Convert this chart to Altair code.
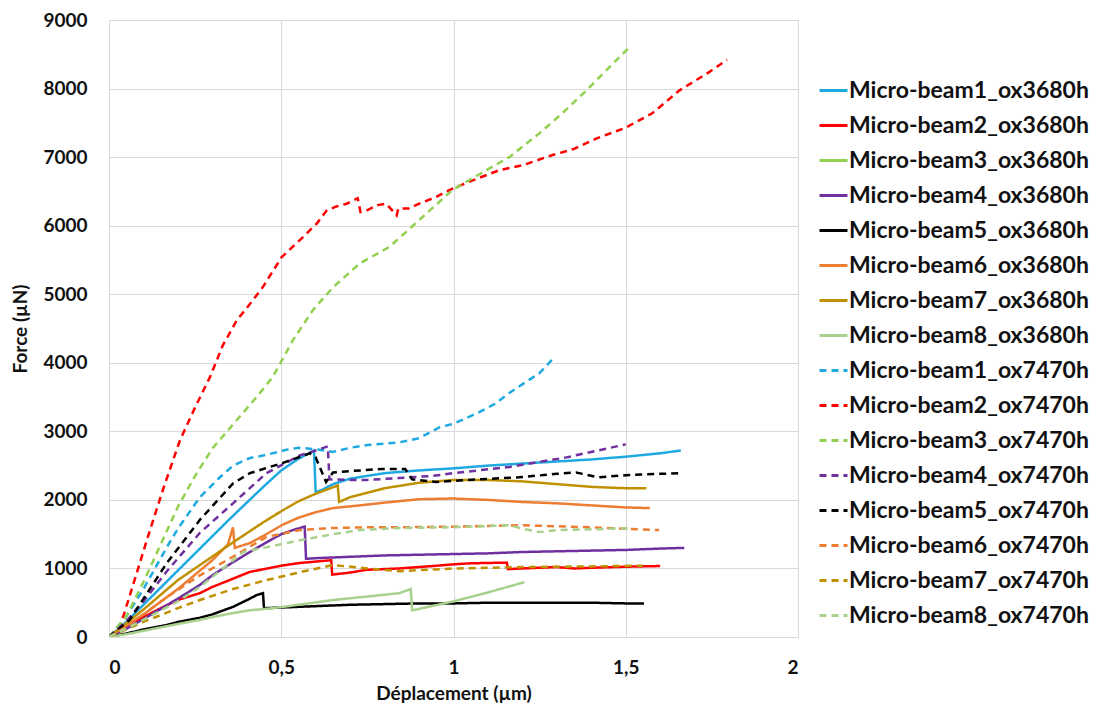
import altair as alt
import pandas as pd

# ---- series names ----
names = [
    "Micro-beam1_ox3680h", "Micro-beam2_ox3680h", "Micro-beam3_ox3680h", "Micro-beam4_ox3680h",
    "Micro-beam5_ox3680h", "Micro-beam6_ox3680h", "Micro-beam7_ox3680h", "Micro-beam8_ox3680h",
    "Micro-beam1_ox7470h", "Micro-beam2_ox7470h", "Micro-beam3_ox7470h", "Micro-beam4_ox7470h",
    "Micro-beam5_ox7470h", "Micro-beam6_ox7470h", "Micro-beam7_ox7470h", "Micro-beam8_ox7470h",
]
colors = ["#1FA9E1", "#FF0000", "#92D050", "#7030A0", "#000000", "#ED7D31", "#BF9000", "#A9D18E"] * 2
dashes = [[1, 0]] * 8 + [[7, 5]] * 8
x_ticks = [0, 0.5, 1, 1.5, 2]
y_ticks = [0, 1000, 2000, 3000, 4000, 5000, 6000, 7000, 8000, 9000]

# ---- ox3680h (solid) ----
b1_x = [0, 0.05, 0.1, 0.15, 0.2, 0.25, 0.3, 0.35, 0.4, 0.45, 0.5, 0.55, 0.595, 0.6, 0.62, 0.65, 0.7, 0.8, 0.9, 1.0, 1.1, 1.2, 1.3, 1.4, 1.5, 1.6, 1.66]
b1_y = [0, 220, 470, 720, 970, 1220, 1470, 1720, 1960, 2200, 2430, 2600, 2720, 2110, 2150, 2230, 2310, 2390, 2430, 2460, 2500, 2530, 2560, 2590, 2630, 2680, 2720]

b2_x = [0, 0.05, 0.1, 0.15, 0.2, 0.264, 0.3, 0.35, 0.409, 0.45, 0.5, 0.554, 0.6, 0.645, 0.648, 0.7, 0.747, 0.843, 0.94, 1.0, 1.05, 1.1, 1.155, 1.158, 1.2, 1.3, 1.35, 1.4, 1.5, 1.6]
b2_y = [0, 150, 290, 420, 540, 640, 730, 830, 950, 990, 1040, 1080, 1100, 1120, 910, 940, 980, 1000, 1035, 1060, 1075, 1080, 1085, 990, 1000, 1020, 1000, 1010, 1025, 1035]

b3_x = []
b3_y = []

b4_x = [0, 0.05, 0.1, 0.15, 0.2, 0.264, 0.3, 0.35, 0.409, 0.45, 0.5, 0.54, 0.568, 0.572, 0.6, 0.7, 0.8, 0.9, 1.0, 1.1, 1.2, 1.3, 1.4, 1.5, 1.6, 1.67]
b4_y = [0, 120, 260, 410, 560, 760, 900, 1060, 1240, 1360, 1500, 1570, 1610, 1140, 1150, 1170, 1190, 1200, 1210, 1220, 1240, 1250, 1260, 1270, 1290, 1300]

b5_x = [0, 0.05, 0.1, 0.168, 0.2, 0.264, 0.3, 0.36, 0.409, 0.428, 0.447, 0.45, 0.5, 0.6, 0.7, 0.8, 0.9, 1.0, 1.1, 1.2, 1.3, 1.4, 1.5, 1.553]
b5_y = [0, 50, 110, 175, 220, 280, 330, 440, 560, 610, 640, 420, 430, 450, 470, 480, 490, 490, 500, 500, 500, 500, 490, 490]

b6_x = [0, 0.1, 0.2, 0.3, 0.345, 0.36, 0.365, 0.409, 0.45, 0.505, 0.55, 0.6, 0.65, 0.728, 0.8, 0.9, 1.0, 1.1, 1.2, 1.3, 1.4, 1.5, 1.57]
b6_y = [0, 330, 700, 1120, 1350, 1600, 1300, 1370, 1480, 1640, 1740, 1820, 1880, 1920, 1960, 2010, 2020, 2000, 1970, 1950, 1920, 1890, 1880]

b7_x = [0, 0.1, 0.2, 0.264, 0.36, 0.45, 0.505, 0.55, 0.6, 0.664, 0.668, 0.7, 0.8, 0.9, 1.0, 1.1, 1.2, 1.3, 1.4, 1.5, 1.56]
b7_y = [0, 400, 830, 1050, 1380, 1680, 1850, 1980, 2090, 2210, 1970, 2040, 2170, 2250, 2290, 2290, 2270, 2230, 2190, 2170, 2170]

b8_x = [0, 0.05, 0.1, 0.15, 0.2, 0.264, 0.3, 0.35, 0.409, 0.476, 0.55, 0.65, 0.75, 0.843, 0.876, 0.88, 0.9, 1.0, 1.1, 1.206]
b8_y = [0, 40, 90, 140, 190, 250, 290, 340, 390, 420, 470, 540, 590, 640, 700, 390, 410, 520, 650, 800]

# ---- ox7470h (dashed) ----
d1_x = [0, 0.05, 0.1, 0.168, 0.2, 0.264, 0.322, 0.36, 0.409, 0.45, 0.515, 0.55, 0.6, 0.65, 0.7, 0.75, 0.8, 0.843, 0.9, 0.96, 1.0, 1.075, 1.12, 1.162, 1.21, 1.25, 1.287]
d1_y = [0, 300, 700, 1310, 1580, 2040, 2330, 2500, 2610, 2650, 2730, 2760, 2740, 2700, 2760, 2800, 2820, 2840, 2900, 3060, 3110, 3280, 3400, 3560, 3720, 3850, 4050]

d2_x = [0, 0.032, 0.06, 0.119, 0.16, 0.206, 0.25, 0.293, 0.33, 0.371, 0.4, 0.446, 0.501, 0.554, 0.603, 0.632, 0.66, 0.69, 0.722, 0.73, 0.747, 0.78, 0.805, 0.835, 0.84, 0.87, 0.9, 0.95, 0.988, 1.05, 1.133, 1.2, 1.287, 1.35, 1.414, 1.5, 1.577, 1.655, 1.742, 1.794]
d2_y = [0, 150, 600, 1560, 2200, 2870, 3350, 3790, 4250, 4620, 4800, 5100, 5540, 5790, 6030, 6220, 6280, 6320, 6400, 6200, 6220, 6300, 6320, 6150, 6250, 6250, 6320, 6420, 6520, 6650, 6810, 6880, 7030, 7120, 7270, 7430, 7640, 7970, 8240, 8420]

d3_x = [0, 0.05, 0.1, 0.15, 0.2, 0.25, 0.3, 0.36, 0.42, 0.475, 0.534, 0.592, 0.65, 0.728, 0.814, 0.9, 0.997, 1.075, 1.162, 1.25, 1.316, 1.385, 1.452, 1.51]
d3_y = [0, 300, 800, 1350, 1900, 2350, 2750, 3100, 3450, 3790, 4330, 4770, 5100, 5450, 5690, 6080, 6520, 6750, 7000, 7350, 7640, 7970, 8310, 8600]

d4_x = [0, 0.05, 0.1, 0.168, 0.264, 0.36, 0.457, 0.554, 0.6, 0.635, 0.64, 0.7, 0.747, 0.843, 0.94, 1.0, 1.162, 1.328, 1.5]
d4_y = [0, 230, 520, 960, 1520, 1950, 2390, 2650, 2720, 2780, 2300, 2290, 2290, 2320, 2350, 2390, 2480, 2620, 2810]

d5_x = [0, 0.06, 0.168, 0.264, 0.36, 0.409, 0.505, 0.583, 0.6, 0.63, 0.65, 0.7, 0.79, 0.86, 0.88, 0.95, 1.04, 1.19, 1.3, 1.356, 1.42, 1.5, 1.6, 1.665]
d5_y = [0, 250, 1080, 1710, 2240, 2390, 2540, 2680, 2620, 2260, 2400, 2420, 2450, 2450, 2300, 2260, 2290, 2330, 2380, 2400, 2330, 2360, 2380, 2390]

d6_x = [0, 0.05, 0.1, 0.168, 0.264, 0.36, 0.457, 0.554, 0.65, 0.747, 0.843, 1.0, 1.2, 1.4, 1.597]
d6_y = [0, 150, 330, 580, 900, 1170, 1460, 1560, 1590, 1600, 1600, 1610, 1630, 1600, 1560]

d7_x = [0, 0.1, 0.2, 0.264, 0.36, 0.457, 0.55, 0.65, 0.75, 0.843, 1.0, 1.2, 1.4, 1.55]
d7_y = [0, 220, 420, 540, 700, 830, 940, 1050, 1000, 960, 1000, 1020, 1030, 1040]

d8_x = [0, 0.1, 0.2, 0.264, 0.39, 0.457, 0.554, 0.65, 0.728, 0.843, 1.0, 1.162, 1.2, 1.25, 1.3, 1.4, 1.52]
d8_y = [0, 250, 520, 730, 1240, 1310, 1410, 1500, 1560, 1590, 1600, 1630, 1580, 1530, 1560, 1570, 1590]

xs = [b1_x, b2_x, b3_x, b4_x, b5_x, b6_x, b7_x, b8_x, d1_x, d2_x, d3_x, d4_x, d5_x, d6_x, d7_x, d8_x]
ys = [b1_y, b2_y, b3_y, b4_y, b5_y, b6_y, b7_y, b8_y, d1_y, d2_y, d3_y, d4_y, d5_y, d6_y, d7_y, d8_y]

rows = []
for k, (name, xv, yv) in enumerate(zip(names, xs, ys)):
    for i, (a, b) in enumerate(zip(xv, yv)):
        rows.append({"series": name, "k": k, "i": i, "x": a, "y": b})
df = pd.DataFrame(rows)

FONT = "Lato"
TXT = "#111111"

legend = alt.Legend(
    title=None, orient="none", legendX=709, legendY=55,
    symbolType="stroke", symbolSize=784, symbolStrokeWidth=3,
    labelFontSize=23, labelFont=FONT, labelFontWeight="bold",
    labelColor=TXT, rowPadding=7, labelLimit=400, labelOffset=0,
)

chart = alt.Chart(df).mark_line(strokeWidth=2.5, clip=True).encode(
    x=alt.X("x:Q", title="Déplacement (µm)",
            scale=alt.Scale(domain=[0, 2], nice=False),
            axis=alt.Axis(values=x_ticks,
                          labelExpr="replace(toString(datum.value), '.', ',')",
                          ticks=False, labelPadding=21, titlePadding=7,
                          domainColor="#D9D9D9", gridColor="#D9D9D9", gridWidth=1,
                          labelFont=FONT, labelFontSize=19, labelFontWeight="bold", labelColor=TXT,
                          titleFont=FONT, titleFontSize=19, titleFontWeight="bold", titleColor=TXT)),
    y=alt.Y("y:Q", title="Force (µN)",
            scale=alt.Scale(domain=[0, 9000], nice=False),
            axis=alt.Axis(values=y_ticks, format="d",
                          ticks=False, labelPadding=22, titlePadding=12,
                          domain=False, gridColor="#D9D9D9", gridWidth=1,
                          labelFont=FONT, labelFontSize=19, labelFontWeight="bold", labelColor=TXT,
                          titleFont=FONT, titleFontSize=19, titleFontWeight="bold", titleColor=TXT)),
    color=alt.Color("series:N", sort=names,
                    scale=alt.Scale(domain=names, range=colors), legend=legend),
    strokeDash=alt.StrokeDash("series:N", sort=names,
                              scale=alt.Scale(domain=names, range=dashes), legend=legend),
    detail="k:N",
    order=alt.Order("i:Q"),
).properties(
    width=689, height=617,
    autosize=alt.AutoSizeParams(type="none"),
    padding={"left": 101, "top": 12, "right": 291, "bottom": 71},
    background="white",
).configure_view(stroke=None)

chart.save("out.html", embed_options={"renderer": "svg", "actions": False})
